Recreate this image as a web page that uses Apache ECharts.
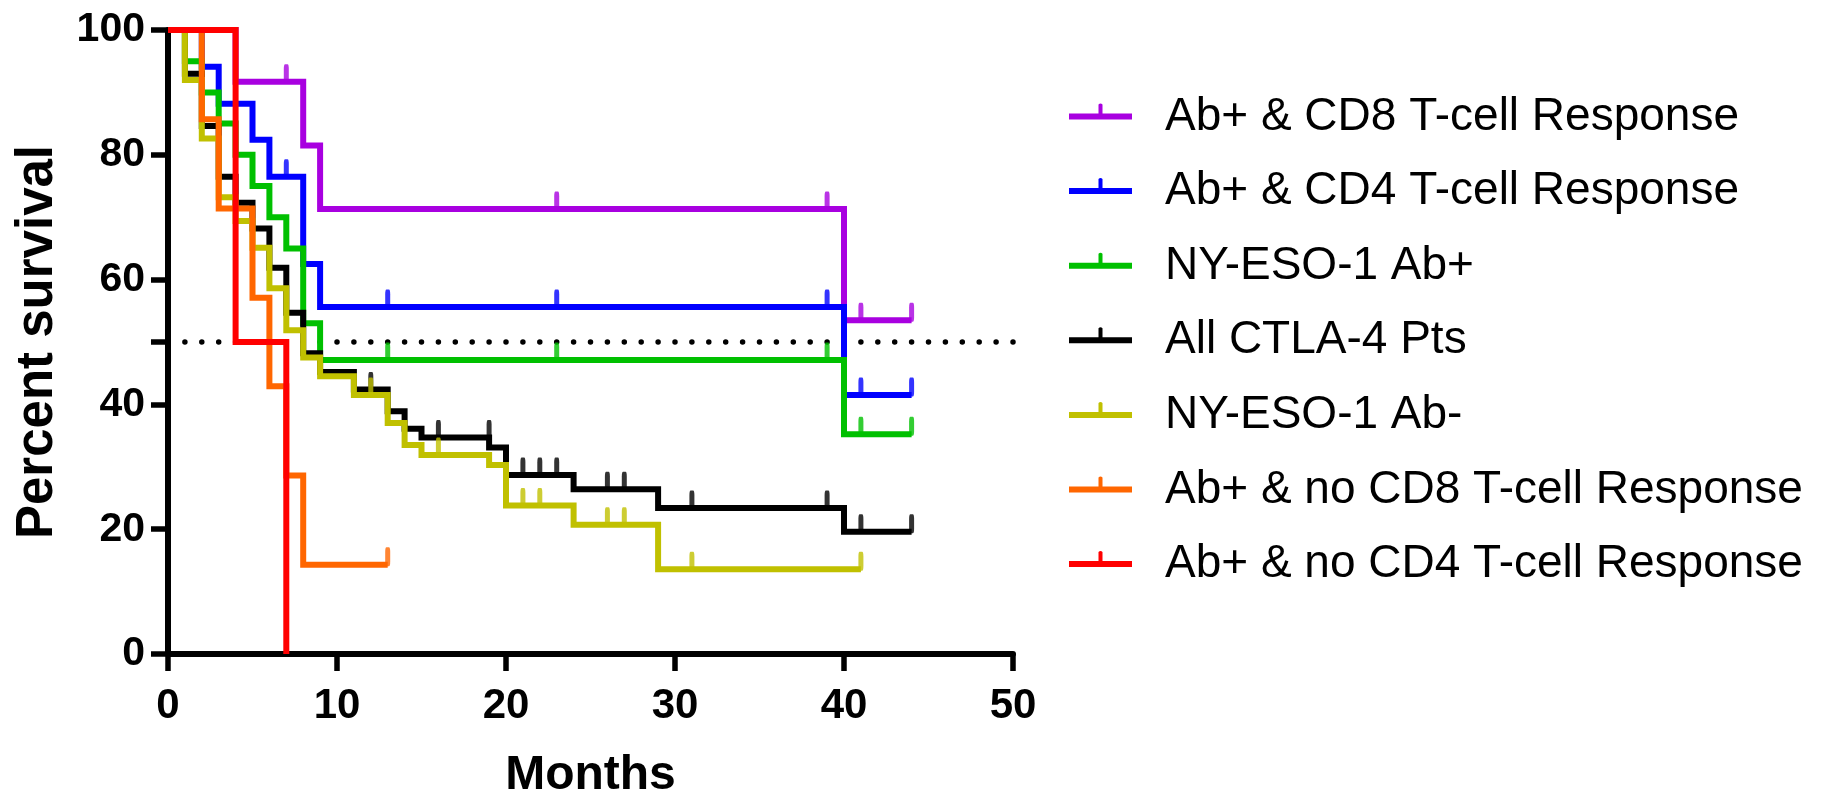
<!DOCTYPE html>
<html>
<head>
<meta charset="utf-8">
<script src="https://cdn.jsdelivr.net/npm/echarts@6/dist/echarts.min.js"></script>
<style>
html,body{margin:0;padding:0;background:#fff;}
#chart{width:1830px;height:797px;}
</style>
</head>
<body>
<div id="chart"></div>
<script>
// ---- Data ----
const seriesNames = [
  'Ab+ & CD8 T-cell Response',
  'Ab+ & CD4 T-cell Response',
  'NY-ESO-1 Ab+',
  'All CTLA-4 Pts',
  'NY-ESO-1 Ab-',
  'Ab+ & no CD8 T-cell Response',
  'Ab+ & no CD4 T-cell Response'
];
const seriesColors = ['#A800E0', '#0000FF', '#00C000', '#000000', '#C0C000', '#FF6600', '#FF0000'];

// Ab+ & CD8 T-cell Response
const cd8PosMonths   = [0, 4, 8, 9, 40, 44];
const cd8PosSurvival = [100, 91.7, 81.5, 71.3, 53.5, 53.5];
const cd8PosCensored = [7, 23, 39, 41, 44];

// Ab+ & CD4 T-cell Response
const cd4PosMonths   = [0, 2, 3, 5, 6, 8, 9, 40, 44];
const cd4PosSurvival = [100, 94.1, 88.2, 82.4, 76.5, 62.5, 55.6, 41.5, 41.5];
const cd4PosCensored = [7, 13, 23, 39, 41, 44];

// NY-ESO-1 Ab+
const abPosMonths   = [0, 1, 2, 3, 4, 5, 6, 7, 8, 9, 40, 44];
const abPosSurvival = [100, 95, 90, 85, 80, 75, 70, 65, 53, 47.1, 35.2, 35.2];
const abPosCensored = [13, 23, 39, 41, 44];

// All CTLA-4 Pts
const allMonths   = [0, 1, 2, 3, 4, 5, 6, 7, 8, 9, 11, 13, 14, 15, 19, 20, 24, 29, 40, 44];
const allSurvival = [100, 93, 84.6, 76.5, 72.3, 68.2, 61.9, 54.7, 48.2, 45.2, 42.4, 38.9, 36.1, 34.7, 33.1, 28.7, 26.4, 23.4, 19.6, 19.6];
const allCensored = [12, 16, 19, 21, 22, 23, 26, 27, 31, 39, 41, 44];

// NY-ESO-1 Ab-
const abNegMonths   = [0, 1, 2, 3, 4, 5, 6, 7, 8, 9, 11, 13, 14, 15, 19, 20, 24, 29, 41];
const abNegSurvival = [100, 92, 82.6, 73.2, 69.4, 65.1, 58.6, 51.9, 47.5, 44.5, 41.5, 37, 33.5, 31.9, 30.3, 23.8, 20.7, 13.6, 13.6];
const abNegCensored = [12, 16, 21, 22, 26, 27, 31, 41];

// Ab+ & no CD8 T-cell Response
const noCd8Months   = [0, 2, 3, 5, 6, 7, 8, 13];
const noCd8Survival = [100, 85.7, 71.4, 57.1, 42.9, 28.6, 14.3, 14.3];
const noCd8Censored = [13];

// Ab+ & no CD4 T-cell Response
const noCd4Months   = [0, 4, 7];
const noCd4Survival = [100, 50, 0];
const noCd4Censored = [];

const xTickValues = [0, 10, 20, 30, 40, 50];
const yLabelValues = [0, 20, 40, 60, 80, 100];
const yTickValues = [0, 20, 40, 50, 60, 80, 100];
const medianSurvival = 50;

// ---- Build chart ----
const groups = [
  [cd8PosMonths, cd8PosSurvival, cd8PosCensored],
  [cd4PosMonths, cd4PosSurvival, cd4PosCensored],
  [abPosMonths, abPosSurvival, abPosCensored],
  [allMonths, allSurvival, allCensored],
  [abNegMonths, abNegSurvival, abNegCensored],
  [noCd8Months, noCd8Survival, noCd8Censored],
  [noCd4Months, noCd4Survival, noCd4Censored]
];

function survivalAt(months, surv, t) {
  let v = surv[0];
  for (let i = 0; i < months.length; i++) {
    if (months[i] < t) v = surv[i];
  }
  return v;
}

const FONT = 'Liberation Sans, Arial, sans-serif';
const LINE_W = 6;

const series = [{
  type: 'line',
  name: '__median',
  data: [[xTickValues[0], medianSurvival], [xTickValues[xTickValues.length - 1], medianSurvival]],
  symbol: 'none',
  silent: true,
  clip: false,
  lineStyle: { color: '#000', width: 5.5, type: [0, 16.9], cap: 'round' },
  z: 1
}];

groups.forEach((g, i) => {
  const [months, surv, cens] = g;
  series.push({
    type: 'line',
    name: seriesNames[i],
    step: 'end',
    data: months.map((m, k) => [m, surv[k]]),
    symbol: 'none',
    clip: false,
    silent: true,
    color: seriesColors[i],
    itemStyle: { color: seriesColors[i] },
    lineStyle: { color: seriesColors[i], width: LINE_W, join: 'miter', cap: 'butt' },
    z: 2
  });
  if (cens.length) {
    series.push({
      type: 'scatter',
      name: 'censor-' + i,
      data: cens.map(t => [t, survivalAt(months, surv, t)]),
      symbol: 'roundRect',
      symbolSize: [5, 19],
      symbolOffset: [0, -8],
      silent: true,
      clip: false,
      itemStyle: { color: seriesColors[i] },
      z: 2
    });
  }
});

// Legend glyph: horizontal line with a censor tick; a zero-area point below keeps the line centred.
const legendIcon = 'path://M0,11 L63,11 L63,17 L0,17 Z M29.5,12 L29.5,2 Q31.5,0 33.5,2 L33.5,12 Z M31.5,28 L31.5,28 L31.5,28 Z';

const option = {
  animation: false,
  backgroundColor: '#ffffff',
  grid: { left: 168, right: 817, top: 30, bottom: 143, containLabel: false, outerBoundsMode: 'none' },
  legend: {
    orient: 'vertical',
    left: 1069,
    top: 92,
    padding: 0,
    itemWidth: 63,
    itemHeight: 28,
    itemGap: 24.6,
    icon: legendIcon,
    selectedMode: false,
    data: seriesNames,
    textStyle: {
      fontSize: 46,
      fontFamily: FONT,
      color: '#000',
      lineHeight: 50,
      padding: [0, 0, 0, 28]
    }
  },
  xAxis: {
    type: 'value',
    min: 0,
    max: 50,
    interval: 10,
    name: 'Months',
    nameLocation: 'middle',
    nameGap: 98,
    nameTextStyle: { fontSize: 48, fontWeight: 'bold', color: '#000', fontFamily: FONT },
    axisLine: { show: true, onZero: false, lineStyle: { color: '#000', width: 6 } },
    axisTick: { show: true, length: 17, lineStyle: { color: '#000', width: 5.5 }, customValues: xTickValues },
    axisLabel: { fontSize: 42, fontWeight: 'bold', color: '#000', margin: 31, fontFamily: FONT, customValues: xTickValues },
    splitLine: { show: false }
  },
  yAxis: {
    type: 'value',
    min: 0,
    max: 100,
    interval: 20,
    name: 'Percent survival',
    nameLocation: 'middle',
    nameRotate: 90,
    nameGap: 105,
    nameTextStyle: { fontSize: 51, fontWeight: 'bold', color: '#000', fontFamily: FONT },
    axisLine: { show: true, onZero: false, lineStyle: { color: '#000', width: 6 } },
    axisTick: { show: true, length: 17, lineStyle: { color: '#000', width: 5.5 }, customValues: yTickValues },
    axisLabel: { fontSize: 41, fontWeight: 'bold', color: '#000', margin: 23, fontFamily: FONT, customValues: yLabelValues },
    splitLine: { show: false }
  },
  series: series
};

const chart = echarts.init(document.getElementById('chart'), null, { renderer: 'canvas' });
chart.setOption(option);
</script>
</body>
</html>
